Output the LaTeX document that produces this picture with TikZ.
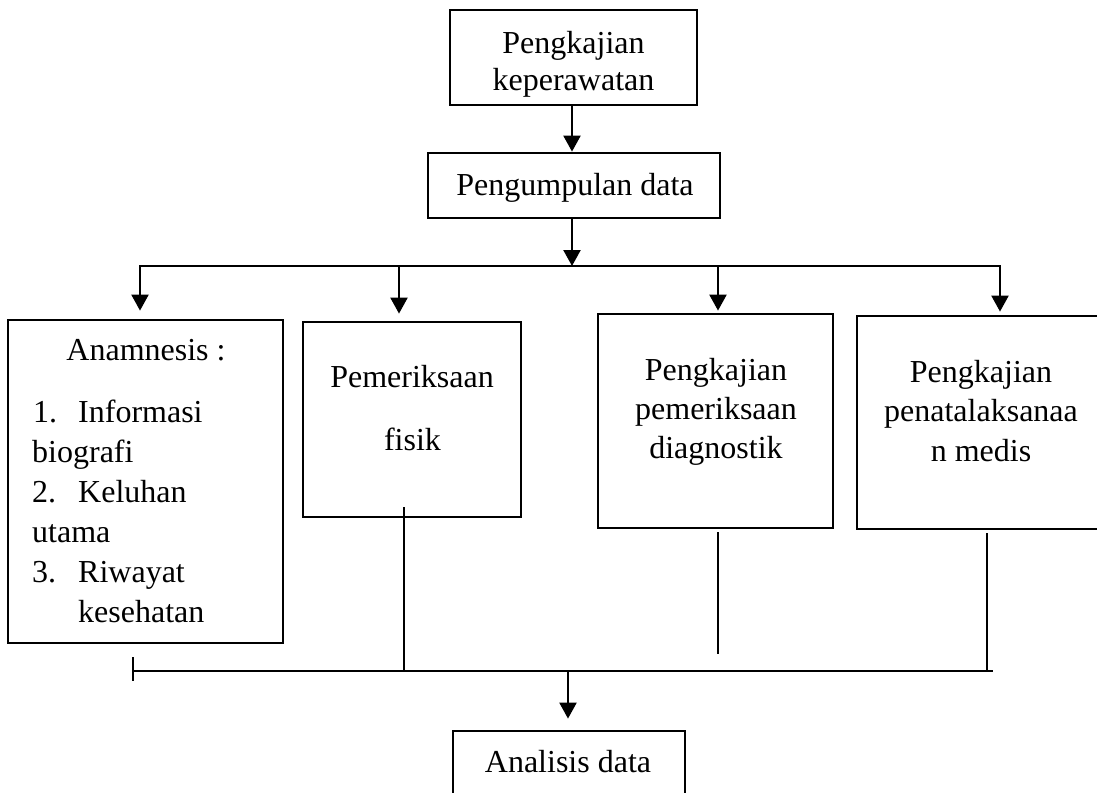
\documentclass[tikz,border=0pt]{standalone}
\usepackage{fontspec}
\setmainfont{Liberation Serif}
\usetikzlibrary{arrows.meta,calc}
\begin{document}
\begin{tikzpicture}[x=1pt,y=-1pt,
  box/.style={draw,line width=2.8pt,inner sep=0pt,minimum width=#1},
  txt/.style={inner sep=0pt,anchor=base,font=\fontsize{32}{37}\selectfont},
  txtl/.style={txt,anchor=base west},
  conn/.style={line width=2.3pt},
  arr/.style={conn,-{Triangle[width=17pt,length=16pt]}},
  thinline/.style={line width=1.4pt}]
\clip (0,0) rectangle (1097,792);
\fill[white] (0,0) rectangle (1097,792);
% boxes
\node[box=247pt,minimum height=95pt] (top) at (573.5,57.5) {};
\node[box=292pt,minimum height=65pt] (pd) at (574,185.5) {};
\node[box=275pt,minimum height=323pt] (anam) at (145.5,481.5) {};
\node[box=218pt,minimum height=195pt] (fisik) at (412,419.5) {};
\node[box=235pt,minimum height=214pt] (diag) at (715.5,421) {};
\node[box=248pt,minimum height=213pt] (medis) at (981,422.5) {};
\node[box=232pt,minimum height=69pt] (ana) at (569,765.5) {};
% texts
\node[txt] (t1a) at (573.5,53) {Pengkajian};
\node[txt] (t1b) at (573.5,90) {keperawatan};
\node[txt] (t2) at (575,195) {Pengumpulan data};
\node[txt] (a0) at (146,360) {Anamnesis :};
\node[txtl] (a1n) at (33,422) {1.};
\node[txtl] (a1) at (78,422) {Informasi};
\node[txtl] (a1b) at (32,462) {biografi};
\node[txtl] (a2n) at (32,502) {2.};
\node[txtl] (a2) at (78,502) {Keluhan};
\node[txtl] (a2b) at (32,542) {utama};
\node[txtl] (a3n) at (32,582) {3.};
\node[txtl] (a3) at (78,582) {Riwayat};
\node[txtl] (a3b) at (78,622) {kesehatan};
\node[txt] (f1) at (412,387) {Pemeriksaan};
\node[txt] (f2) at (412.5,450) {fisik};
\node[txt] (d1) at (716,380) {Pengkajian};
\node[txt] (d2) at (716,419) {pemeriksaan};
\node[txt] (d3) at (716,458) {diagnostik};
\node[txt] (m1) at (981,382) {Pengkajian};
\node[txt] (m2) at (981,421) {penatalaksanaa};
\node[txt] (m3) at (981,461) {n medis};
\node[txt] (an) at (568,772) {Analisis data};
% coordinates
\coordinate (b1) at (140,266);
\coordinate (b2) at (399,266);
\coordinate (bc) at (572,266);
\coordinate (b3) at (718,266);
\coordinate (b4) at (1000,266);
\coordinate (v1a) at (404,507);
\coordinate (v1b) at (404,671);
\coordinate (v2a) at (718,532);
\coordinate (v2b) at (718,654);
\coordinate (v3a) at (987,533);
\coordinate (v3b) at (987,670);
\coordinate (hl) at (133,671);
\coordinate (hr) at (993,671);
\coordinate (tk1) at (133,657);
\coordinate (tk2) at (133,681);
\coordinate (ba) at (568,671);
% connectors
\draw[arr] (top.south -| 572,0) -- (pd.north -| 572,0);
\draw[arr] (pd.south -| bc) -- (bc);
\draw[arr,shorten >=8pt] (b2) -- (b1) -- (b1 |- anam.north);
\draw[arr,shorten >=3pt] (b2) -- (b4) -- (b4 |- medis.north);
\draw[arr,shorten >=7pt] (b2) -- (b2 |- fisik.north);
\draw[arr,shorten >=2pt] (b3) -- (b3 |- diag.north);
\draw[thinline] (v1a) -- (v1b);
\draw[thinline] (v2a) -- (v2b);
\draw[thinline] (v3a) -- (v3b);
\draw[conn] (hl) -- (hr);
\draw[thinline] (tk1) -- (tk2);
\draw[arr,shorten >=11pt] (ba) -- (ba |- ana.north);
\end{tikzpicture}
\end{document}
